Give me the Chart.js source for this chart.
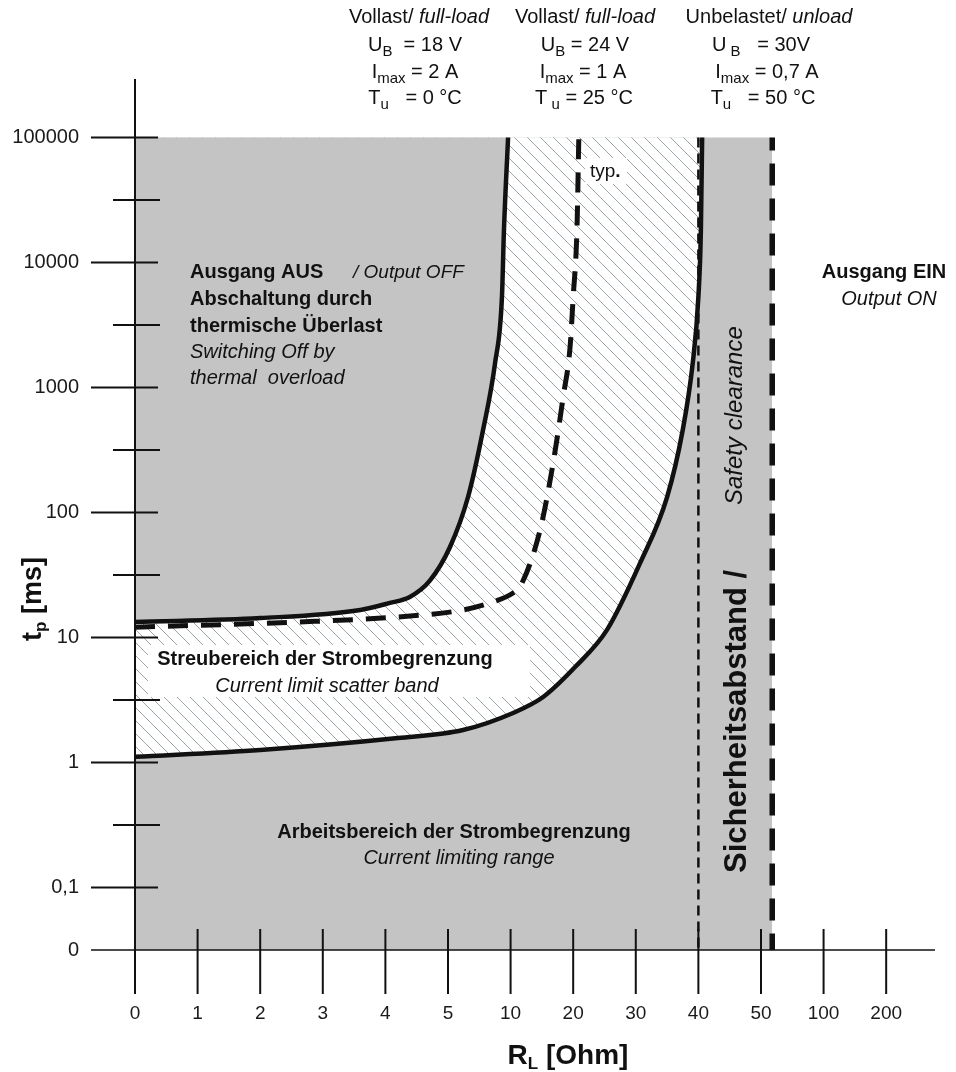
<!DOCTYPE html>
<html>
<head>
<meta charset="utf-8">
<script src="https://cdn.jsdelivr.net/npm/chart.js@4.4.1/dist/chart.umd.min.js"></script>
<style>
  html, body { margin: 0; padding: 0; background: #fff; }
  #wrap { position: relative; width: 956px; height: 1072px; }
</style>
</head>
<body>
<div id="wrap"><canvas id="chart"></canvas></div>
<script>
// x axis: load resistance ticks, equally spaced (non-linear scale)
const ohmTicks = [0, 1, 2, 3, 4, 5, 10, 20, 30, 40, 50, 100, 200];
// y axis: pulse time ticks in ms ("0" sits half a decade under 0,1)
const msTicks = [0, 0.1, 1, 10, 100, 1000, 10000, 100000];
const msTickLabels = ['0', '0,1', '1', '10', '100', '1000', '10000', '100000'];

// upper border of the scatter band
const upperOhm = [0, 2.0, 3.6, 4.07, 4.39, 4.71, 5.16, 6.6, 7.8, 8.76, 9.31, 9.47, 9.8];
const upperMs  = [13.3, 14.3, 16.6, 18.9, 21.1, 28.5, 53, 133, 457, 1570, 5300, 18200, 100000];

// typical curve (dashed)
const typOhm = [0, 2.6, 4.2, 6.2, 8.35, 10.4, 11.5, 14.7, 16.8, 18.4, 19.5, 20, 20.6, 20.9];
const typMs  = [12.1, 13.3, 14.6, 16.6, 18.9, 22.7, 25.4, 72, 249, 840, 2100, 5300, 18200, 100000];

// lower border of the scatter band
const lowerOhm = [0, 2.0, 4.2, 6.2, 10.4, 15.2, 20.3, 25.4, 30.7, 35, 37.5, 39.1, 40, 40.4, 40.6];
const lowerMs  = [1.11, 1.26, 1.57, 1.82, 2.49, 3.34, 5.8, 11.5, 39.5, 133, 457, 1570, 5300, 18200, 100000];

// vertical limits
const SAFETY_OHM = 40;     // thin dashed line
const OUTPUT_ON_OHM = 59;  // thick dashed line, end of grey area
const TOP_MS = 100000;

const GRAY = '#c4c4c4';
const INK = '#111111';
const FONT = '"Liberation Sans", Arial, sans-serif';

// map resistance onto the equally spaced tick index
function ohmToPos(r) {
    const n = ohmTicks.length;
    for (let k = 0; k < n - 1; k++) {
        if (r <= ohmTicks[k + 1]) {
            return k + (r - ohmTicks[k]) / (ohmTicks[k + 1] - ohmTicks[k]);
        }
    }
    return (n - 1) + (r - ohmTicks[n - 1]) / (ohmTicks[n - 1] - ohmTicks[n - 2]);
}

// decades, shifted so that 0,1 ms sits at 0.5 and "0" at 0
function msToPos(t) {
    return t <= 0 ? 0 : Math.log10(t) + 1.5;
}

function curve(ohm, ms) {
    return ohm.map((r, i) => ({ x: ohmToPos(r), y: msToPos(ms[i]) }));
}

function makeHatch() {
    const s = 13;
    const c = document.createElement('canvas');
    c.width = s; c.height = s;
    const g = c.getContext('2d');
    g.fillStyle = '#ffffff';
    g.fillRect(0, 0, s, s);
    g.strokeStyle = '#9aa6ac';
    g.lineWidth = 1;
    g.beginPath();
    g.moveTo(-2, -2); g.lineTo(s + 2, s + 2);
    g.moveTo(-2, s - 2); g.lineTo(2, s + 2);
    g.moveTo(s - 2, -2); g.lineTo(s + 2, 2);
    g.stroke();
    return g.createPattern(c, 'repeat');
}

// draw a line of text made of several runs (font changes, subscripts)
function drawRuns(ctx, x, y, parts, align) {
    ctx.save();
    ctx.translate(x, y);
    ctx.textBaseline = 'alphabetic';
    ctx.textAlign = 'left';
    let w = 0;
    parts.forEach(p => { ctx.font = p[1]; w += ctx.measureText(p[0]).width; });
    let cx = align === 'center' ? -w / 2 : (align === 'right' ? -w : 0);
    parts.forEach(p => {
        ctx.font = p[1];
        ctx.fillText(p[0], cx, p[2] || 0);
        cx += ctx.measureText(p[0]).width;
    });
    ctx.restore();
}

const R = '20px ' + FONT, RI = 'italic 20px ' + FONT, SUB = '15px ' + FONT;
const B = 'bold 20px ' + FONT, BI = 'italic 20px ' + FONT;

const headerLines = [
    // column 1
    [419, 23, [['Vollast/ ', R], ['full-load', RI]]],
    [415, 51, [['U', R], ['B', SUB, 5], ['  = 18 V', R]]],
    [415, 78, [['I', R], ['max', SUB, 5], [' = 2 A', R]]],
    [415, 104, [['T', R], ['u', SUB, 5], ['   = 0 °C', R]]],
    // column 2
    [585, 23, [['Vollast/ ', R], ['full-load', RI]]],
    [585, 51, [['U', R], ['B', SUB, 5], [' = 24 V', R]]],
    [583, 78, [['I', R], ['max', SUB, 5], [' = 1 A', R]]],
    [584, 104, [['T', R], [' u', SUB, 5], [' = 25 °C', R]]],
    // column 3
    [769, 23, [['Unbelastet/ ', R], ['unload', RI]]],
    [761, 51, [['U', R], [' B', SUB, 5], ['   = 30V', R]]],
    [767, 78, [['I', R], ['max', SUB, 5], [' = 0,7 A', R]]],
    [763, 104, [['T', R], ['u', SUB, 5], ['   = 50 °C', R]]]
];

const areaTexts = [
    [190, 278, [['Ausgang AUS', B]], 'left'],
    [353, 278, [['/ Output OFF', 'italic 19px ' + FONT]], 'left'],
    [190, 305, [['Abschaltung durch', B]], 'left'],
    [190, 332, [['thermische Überlast', B]], 'left'],
    [190, 358, [['Switching Off by', BI]], 'left'],
    [190, 384, [['thermal  overload', BI]], 'left'],
    [325, 665, [['Streubereich der Strombegrenzung', B]], 'center'],
    [327, 692, [['Current limit scatter band', BI]], 'center'],
    [454, 838, [['Arbeitsbereich der Strombegrenzung', B]], 'center'],
    [459, 864, [['Current limiting range', BI]], 'center'],
    [884, 278, [['Ausgang EIN', B]], 'center'],
    [889, 305, [['Output ON', BI]], 'center'],
    [590, 177, [['typ', '19px ' + FONT], ['.', 'bold 19px ' + FONT]], 'left']
];

const annotationPlugin = {
    id: 'annotations',
    afterDatasetsDraw(chart) {
        const ctx = chart.ctx;
        const xs = chart.scales.x, ys = chart.scales.y;
        const x0 = xs.getPixelForValue(0), y0 = ys.getPixelForValue(0);

        // white boxes behind labels inside the hatched band
        ctx.save();
        ctx.fillStyle = '#ffffff';
        ctx.fillRect(148, 645, 382, 52);
        ctx.fillRect(585, 158, 42, 26);
        ctx.restore();

        ctx.fillStyle = INK;
        areaTexts.forEach(t => drawRuns(ctx, t[0], t[1], t[2], t[3]));
        headerLines.forEach(t => drawRuns(ctx, t[0], t[1], t[2], 'center'));

        // rotated safety clearance label
        ctx.save();
        ctx.translate(746, 873);
        ctx.rotate(-Math.PI / 2);
        drawRuns(ctx, 0, 0, [['Sicherheitsabstand /', 'bold 31px ' + FONT]], 'left');
        ctx.restore();
        ctx.save();
        ctx.translate(742, 505);
        ctx.rotate(-Math.PI / 2);
        drawRuns(ctx, 0, 0, [['Safety clearance', 'italic 24px ' + FONT]], 'left');
        ctx.restore();

        // axis titles
        drawRuns(ctx, 568, 1064, [['R', 'bold 28px ' + FONT], ['L', 'bold 17px ' + FONT, 5], [' [Ohm]', 'bold 28px ' + FONT]], 'center');
        ctx.save();
        ctx.translate(41, 599);
        ctx.rotate(-Math.PI / 2);
        drawRuns(ctx, 0, 0, [['t', 'bold 27px ' + FONT], ['p', 'bold 17px ' + FONT, 5], [' [ms]', 'bold 27px ' + FONT]], 'center');
        ctx.restore();

        // axis lines and tick marks
        ctx.save();
        ctx.strokeStyle = INK;
        ctx.lineWidth = 2;
        ctx.beginPath();
        ctx.moveTo(x0, chart.chartArea.top);
        ctx.lineTo(x0, chart.chartArea.bottom);
        ctx.stroke();
        ctx.lineWidth = 1.5;
        ctx.beginPath();
        ctx.moveTo(x0 - 44, y0);
        ctx.lineTo(chart.chartArea.right, y0);
        ctx.stroke();

        ctx.lineWidth = 2;
        const majors = msTicks.map(msToPos);
        majors.forEach((v, i) => {
            if (i === 0) return;
            const py = ys.getPixelForValue(v);
            ctx.beginPath();
            ctx.moveTo(x0 - 44, py);
            ctx.lineTo(x0 + 23, py);
            ctx.stroke();
        });
        // minor ticks half way between decades
        for (let i = 1; i < majors.length - 1; i++) {
            const py = ys.getPixelForValue((majors[i] + majors[i + 1]) / 2);
            ctx.beginPath();
            ctx.moveTo(x0 - 22, py);
            ctx.lineTo(x0 + 25, py);
            ctx.stroke();
        }
        ohmTicks.forEach((r, i) => {
            if (i === 0) return;
            const px = xs.getPixelForValue(i);
            ctx.beginPath();
            ctx.moveTo(px, y0 - 21);
            ctx.lineTo(px, chart.chartArea.bottom);
            ctx.stroke();
        });
        ctx.restore();
    }
};

const topPos = msToPos(TOP_MS);

new Chart(document.getElementById('chart'), {
    type: 'line',
    data: {
        datasets: [
            {
                label: 'typ.',
                data: curve(typOhm, typMs),
                borderColor: INK,
                borderWidth: 5,
                borderDash: [20, 13],
                cubicInterpolationMode: 'monotone',
                fill: false,
                order: 1
            },
            {
                label: 'Sicherheitsabstand',
                data: [{ x: ohmToPos(SAFETY_OHM), y: topPos }, { x: ohmToPos(SAFETY_OHM), y: 0 }],
                borderColor: INK,
                borderWidth: 2.5,
                borderDash: [10, 6],
                fill: false,
                order: 2
            },
            {
                label: 'Ausgang EIN',
                data: [{ x: ohmToPos(OUTPUT_ON_OHM), y: topPos }, { x: ohmToPos(OUTPUT_ON_OHM), y: 0 }],
                borderColor: INK,
                borderWidth: 5.5,
                borderDash: [22, 13],
                borderDashOffset: 9,
                fill: false,
                order: 2
            },
            {
                label: 'upper',
                data: curve(upperOhm, upperMs),
                borderColor: INK,
                borderWidth: 4.5,
                cubicInterpolationMode: 'monotone',
                fill: { value: topPos },
                backgroundColor: GRAY,
                order: 3
            },
            {
                label: 'lower',
                data: curve(lowerOhm, lowerMs),
                borderColor: INK,
                borderWidth: 4.5,
                cubicInterpolationMode: 'monotone',
                fill: { value: topPos },
                backgroundColor: makeHatch(),
                order: 4
            },
            {
                label: 'area',
                data: [{ x: 0, y: topPos }, { x: ohmToPos(OUTPUT_ON_OHM), y: topPos }],
                borderWidth: 0,
                borderColor: 'rgba(0,0,0,0)',
                backgroundColor: GRAY,
                fill: 'origin',
                order: 5
            }
        ]
    },
    options: {
        responsive: true,
        maintainAspectRatio: false,
        devicePixelRatio: 1,
        animation: false,
        layout: { padding: { top: 79, right: 21, left: 0, bottom: 0 } },
        elements: { point: { radius: 0, hoverRadius: 0 }, line: { borderCapStyle: 'butt' } },
        plugins: {
            legend: { display: false },
            tooltip: { enabled: false }
        },
        scales: {
            x: {
                type: 'linear',
                min: 0,
                max: 12.78,
                afterBuildTicks: s => { s.ticks = ohmTicks.map((r, i) => ({ value: i })); },
                afterFit: s => { s.height = 78; },
                ticks: {
                    callback: (v, i) => String(ohmTicks[i]),
                    autoSkip: false,
                    maxRotation: 0,
                    padding: 0,
                    color: '#1a1a1a',
                    font: { family: FONT, size: 19 }
                },
                grid: { display: false },
                border: { display: false }
            },
            y: {
                type: 'linear',
                min: -0.352,
                max: 6.968,
                afterBuildTicks: s => { s.ticks = msTicks.map(t => ({ value: msToPos(t) })); },
                afterFit: s => { s.width = 135; },
                ticks: {
                    callback: (v, i) => msTickLabels[i],
                    autoSkip: false,
                    padding: 48,
                    color: '#1a1a1a',
                    font: { family: FONT, size: 20 }
                },
                grid: { display: false },
                border: { display: false }
            }
        }
    },
    plugins: [annotationPlugin]
});
</script>
</body>
</html>
